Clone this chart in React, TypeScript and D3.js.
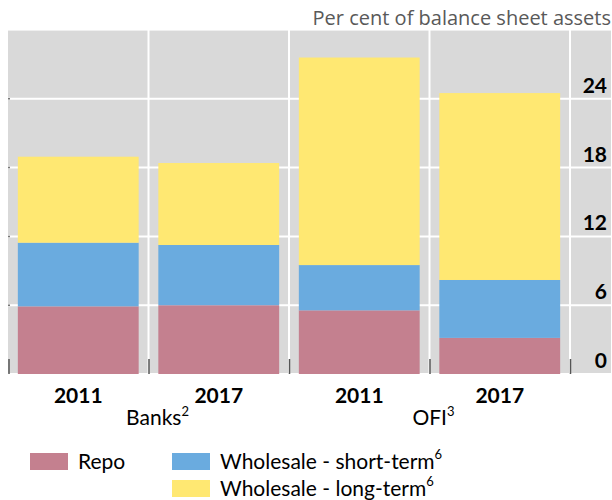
import React from "react";
import * as d3 from "d3";

const categories = ["2011", "2017", "2011", "2017"];
const groups = [
  { label: "Banks", sup: "2", span: [0, 1] },
  { label: "OFI", sup: "3", span: [2, 3] },
];
const repo = [5.9, 6.0, 5.55, 3.15];
const shortTerm = [5.55, 5.25, 3.95, 5.05];
const longTerm = [7.5, 7.15, 18.1, 16.3];
const yTicks = [0, 6, 12, 18, 24];
const seriesNames = ["Repo", "Wholesale - short-term", "Wholesale - long-term"];
const colors = ["#c4808f", "#6aabdf", "#ffe872"];

const W = 612;
const H = 500;
const left = 8;
const plotRight = 570;
const right = 611;
const top = 30;
const bottom = 374;
const FONT = "Lato, 'Open Sans', sans-serif";

export default function App() {
  const x = d3
    .scaleBand<number>()
    .domain(categories.map((_, i) => i))
    .range([left, plotRight])
    .paddingInner(0)
    .paddingOuter(0);
  const y = d3.scaleLinear().domain([0, 30]).range([bottom, top]);
  const bw = x.bandwidth();
  const barW = bw * 0.86;

  const table = categories.map((c, i) => ({
    i,
    repo: repo[i],
    shortTerm: shortTerm[i],
    longTerm: longTerm[i],
  }));
  const stack = d3.stack<any>().keys(["repo", "shortTerm", "longTerm"])(table);

  const boundaries = categories.map((_, i) => x(i)!).concat([plotRight]);

  return (
    <svg
      width={W}
      height={H}
      style={{ position: "absolute", left: 0, top: 0, display: "block" }}
      fontFamily={FONT}
    >
      <rect x={left} y={top} width={right - left} height={bottom - top} fill="#d9d9d9" />
      {[...yTicks, 30].map((t) => (
        <line key={"h" + t} x1={left} x2={right} y1={y(t)} y2={y(t)} stroke="#ffffff" strokeWidth={2} opacity={t === 30 ? 0.6 : 1} />
      ))}
      {boundaries.slice(1).map((b, i) => (
        <line key={"v" + i} x1={b} x2={b} y1={top} y2={bottom} stroke="#ffffff" strokeWidth={2} />
      ))}
      {stack.map((s, si) =>
        s.map((d, i) => (
          <rect
            key={si + "-" + i}
            x={x(i)! + (bw - barW) / 2}
            width={barW}
            y={y(d[1])}
            height={y(d[0]) - y(d[1])}
            fill={colors[si]}
          />
        ))
      )}
      {boundaries.map((b, i) => (
        <line key={"t" + i} x1={b + (i === 0 ? 1 : 0.5)} x2={b + (i === 0 ? 1 : 0.5)} y1={bottom - 15} y2={bottom} stroke="#555" strokeWidth={1.5} />
      ))}
      {yTicks.slice(1).map((t) => (
        <line key={"lt" + t} x1={left} x2={left + 2} y1={y(t)} y2={y(t)} stroke="#777" strokeWidth={1.5} />
      ))}
      {yTicks.map((t) => (
        <text key={"yl" + t} x={607} y={y(t) - 6} textAnchor="end" fontSize={21} fontWeight="bold" fill="#000">
          {t}
        </text>
      ))}
      <text x={611} y={25} textAnchor="end" fontSize={20} fill="#595959" fontFamily="'Open Sans', sans-serif">
        Per cent of balance sheet assets
      </text>
      {categories.map((c, i) => (
        <text key={"xl" + i} x={x(i)! + bw / 2} y={403} textAnchor="middle" fontSize={21} fontWeight="bold" fill="#000">
          {c}
        </text>
      ))}
      {groups.map((g, gi) => {
        const cx = (x(g.span[0])! + x(g.span[1])! + bw) / 2;
        return (
          <text key={g.label} x={cx + (gi === 0 ? 9 : 4)} y={425} textAnchor="middle" fontSize={21} fill="#000">
            {g.label}
            <tspan fontSize={13} dy={-9}>{g.sup}</tspan>
          </text>
        );
      })}
      {[
        { i: 0, sx: 30, sy: 453 },
        { i: 1, sx: 172, sy: 453 },
        { i: 2, sx: 172, sy: 480 },
      ].map(({ i, sx, sy }) => (
        <g key={"lg" + i}>
          <rect x={sx} y={sy} width={38} height={17} fill={colors[i]} />
          <text x={sx + 48} y={sy + 16} fontSize={21} fill="#000">
            {seriesNames[i]}
            {i > 0 ? <tspan fontSize={13} dy={-10}>6</tspan> : null}
          </text>
        </g>
      ))}
    </svg>
  );
}
